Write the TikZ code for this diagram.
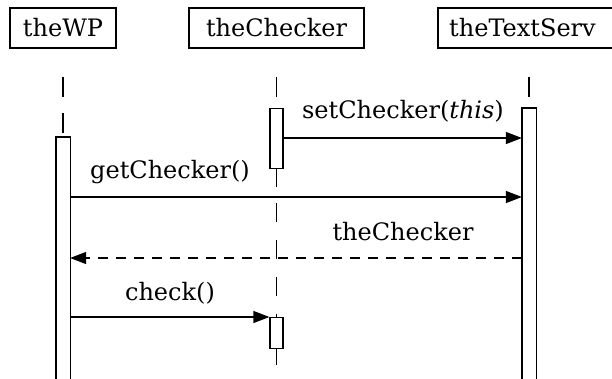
\documentclass[tikz,border=0pt]{standalone}
\usepackage{fontspec}
\setmainfont{DejaVu Serif}
\usetikzlibrary{arrows.meta}
\tikzset{
  every node/.style={font=\fontsize{24}{28}\selectfont},
  head/.style={draw, line width=1.2pt, rectangle, minimum height=40pt, inner sep=0pt},
  actbar/.style={draw, line width=1.2pt, fill=white, rectangle, minimum width=13pt, inner sep=0pt, anchor=north},
  openbar/.style={actbar, draw=none, fill=none},
  bar/.style={line width=1.2pt},
  life/.style={line width=1.2pt, dash pattern=on 20pt off 16pt},
  lifelow/.style={line width=1.2pt, dash pattern=on 19pt off 18pt},
  call/.style={line width=1.2pt, -{Triangle[length=16pt,width=12pt]}},
  reply/.style={line width=1.2pt, dash pattern=on 10pt off 8pt, -{Triangle[length=16pt,width=12pt]}},
  msg/.style={anchor=base, inner sep=0pt}
}
\begin{document}
\begin{tikzpicture}[x=1pt,y=-1pt]
\useasboundingbox (0,0) rectangle (612,378);
\fill[white] (0,0) rectangle (612,378);
\clip (0,0) rectangle (612,378);

% object headers
\node[head, minimum width=106pt] (wp) at (63,28) {theWP};
\node[head, minimum width=175pt] (chk) at (276.5,28) {theChecker};
% the last header is open on the right: it runs off the page
\node[anchor=west, inner sep=0pt] (ts) at (449,28) {theTextServ};
\draw[bar] (640,8) -- (438,8) -- (438,48) -- (640,48);

% lifelines
\coordinate (wpL0) at (63,77);   \coordinate (wpL1) at (63,137);
\coordinate (chL0) at (276.5,77); \coordinate (chL1) at (276.5,108);
\coordinate (tsL0) at (529,77);  \coordinate (tsL1) at (529,108);
\draw[life] (wpL0) -- (wpL1);
\draw[life] (chL0) -- (chL1);
\draw[life] (tsL0) -- (tsL1);

% activation bars; the long ones run off the bottom of the page
\node[openbar, minimum height=241pt] (wpAct) at (wpL1) {};
\node[openbar, minimum height=270pt] (tsAct) at (tsL1) {};
\draw[bar] (wpAct.south west) -- (wpAct.north west) -- (wpAct.north east) -- (wpAct.south east);
\draw[bar] (tsAct.south west) -- (tsAct.north west) -- (tsAct.north east) -- (tsAct.south east);
\node[actbar, minimum height=60pt] (chAct) at (chL1) {};
\coordinate (chL2) at (276.5,187);
\coordinate (chL3) at (276.5,203);
\coordinate (chL4) at (276.5,317);
\draw[bar] (chAct.south) -- (chL2);
\draw[lifelow] (chL3) -- (chL4);
\node[actbar, minimum height=31pt] (chAct2) at (chL4) {};
\coordinate (chL5) at (276.5,365);
\draw[bar] (chAct2.south) -- (chL5);

% messages
\coordinate (y1) at (0,138);
\coordinate (y2) at (0,197);
\coordinate (y3) at (0,258);
\coordinate (y4) at (0,317);
\draw[call] (chAct.east |- y1) -- (tsAct.west |- y1);
\node[msg] (m1) at (403,118) {setChecker(\textit{this})};
\draw[call] (wpAct.east |- y2) -- (tsAct.west |- y2);
\node[msg] (m2) at (170,178) {getChecker()};
\draw[reply] (tsAct.west |- y3) -- (wpAct.east |- y3);
\node[msg] (m3) at (403,240) {theChecker};
\draw[call] (wpAct.east |- y4) -- (chAct2.west |- y4);
\node[msg] (m4) at (170,300) {check()};
\end{tikzpicture}
\end{document}
